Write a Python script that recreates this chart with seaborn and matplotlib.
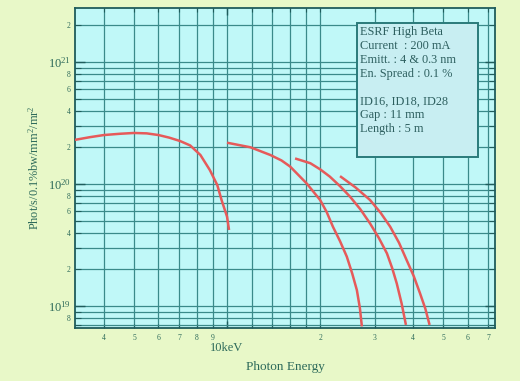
import matplotlib
matplotlib.use("Agg")
import math
import matplotlib.pyplot as plt
import matplotlib.ticker as mticker
from matplotlib.patches import Rectangle
import seaborn as sns
import pandas as pd

# ---- data ----
e1 = [3.22, 3.6, 4.0, 4.5, 5.0, 5.5, 6.0, 6.5, 7.05, 7.6, 8.2, 8.8, 9.3, 9.6, 10.0, 10.15]
f1 = [2.3e20, 2.42e20, 2.52e20, 2.58e20, 2.62e20, 2.6e20, 2.52e20, 2.4e20, 2.25e20, 2.07e20,
      1.73e20, 1.30e20, 9.8e19, 7.4e19, 5.4e19, 4.2e19]
e2 = [10.0, 11.9, 13.8, 15.0, 16.0, 18.1, 20.0, 21.0, 22.0, 23.2, 24.4, 25.4, 26.3, 26.9, 27.3]
f2 = [2.18e20, 2.0e20, 1.73e20, 1.56e20, 1.39e20, 1.01e20, 7.4e19, 5.9e19, 4.47e19, 3.4e19,
      2.54e19, 1.85e19, 1.35e19, 9.6e18, 6.8e18]
e3 = [16.6, 18.6, 20.0, 21.5, 23.2, 25.0, 27.0, 29.0, 31.0, 32.9, 34.2, 35.4, 36.7, 37.9]
f3 = [1.62e20, 1.48e20, 1.32e20, 1.15e20, 9.6e19, 7.87e19, 6.2e19, 4.76e19, 3.6e19, 2.70e19,
      2.05e19, 1.53e19, 1.05e19, 7.0e18]
e4 = [23.2, 26.0, 29.0, 31.4, 33.7, 36.0, 38.1, 40.2, 42.1, 43.8, 45.2]
f4 = [1.16e20, 9.4e19, 7.4e19, 5.8e19, 4.47e19, 3.3e19, 2.38e19, 1.75e19, 1.27e19, 9.5e18, 7.0e18]

x_minor = [4, 5, 6, 7, 8, 9, 12, 14, 16, 18, 20, 30, 40, 50, 60, 70]
x_minor_labels = ["4", "5", "6", "7", "8", "9", "", "", "", "", "2", "3", "4", "5", "6", "7"]
y_major = [1e19, 1e20, 1e21]
y_major_labels = [r"10$^{19}$", r"10$^{20}$", r"10$^{21}$"]

info_text = ("ESRF High Beta\nCurrent  : 200 mA\nEmitt. : 4 & 0.3 nm\nEn. Spread : 0.1 %\n\n"
             "ID16, ID18, ID28\nGap : 11 mm\nLength : 5 m")

frames = []
for name, e, f in [("c1", e1, f1), ("c2", e2, f2), ("c3", e3, f3), ("c4", e4, f4)]:
    frames.append(pd.DataFrame({"energy": e, "flux": f, "curve": name}))
df = pd.concat(frames, ignore_index=True)

# ---- style ----
sns.set_theme(style="ticks")
plt.rcParams["font.family"] = ["Liberation Serif", "DejaVu Serif"]
plt.rcParams["mathtext.fontset"] = "custom"
plt.rcParams["mathtext.rm"] = "Liberation Serif"
plt.rcParams["mathtext.it"] = "Liberation Serif:italic"

fig_bg = "#e8f8c8"
ax_bg = "#c0f8f8"
grid_c = "#3a8a8a"
text_c = "#2d6a5a"
spine_c = "#1f5c5c"
red = "#e65a5a"

fig = plt.figure(figsize=(5.2, 3.81), dpi=100, facecolor=fig_bg)
ax = fig.add_axes([0.144, 0.139, 0.808, 0.840])
ax.set_facecolor(ax_bg)

sns.lineplot(data=df, x="energy", y="flux", units="curve", estimator=None, sort=False,
             color=red, linewidth=1.8, ax=ax, zorder=3)
for ln in ax.get_lines():
    ln.set_solid_joinstyle("round")
    ln.set_solid_capstyle("butt")

ax.set_xscale("log")
ax.set_yscale("log")
ax.set_xlim(3.22, 73.6)
ax.set_ylim(6.6e18, 2.77e21)

# x ticks
ax.xaxis.set_major_locator(mticker.FixedLocator([10]))
ax.xaxis.set_major_formatter(mticker.FixedFormatter(["10keV"]))
ax.xaxis.set_minor_locator(mticker.FixedLocator(x_minor))
ax.xaxis.set_minor_formatter(mticker.FixedFormatter(x_minor_labels))

# y ticks
ax.yaxis.set_major_locator(mticker.FixedLocator(y_major))
ax.yaxis.set_major_formatter(mticker.FixedFormatter(y_major_labels))
ax.yaxis.set_minor_locator(mticker.LogLocator(base=10, subs=[2, 3, 4, 5, 6, 7, 8, 9], numticks=20))
def ymin_fmt(v, pos):
    m = round(v / 10 ** math.floor(math.log10(v) + 1e-9))
    return str(m) if m in (2, 4, 6, 8) else ""
ax.yaxis.set_minor_formatter(mticker.FuncFormatter(ymin_fmt))

ax.tick_params(axis="both", which="both", direction="in", top=True, right=True,
               colors=spine_c, labelcolor=text_c)
ax.tick_params(axis="y", which="major", length=7, width=1.0, labelsize=9, pad=3)
ax.tick_params(axis="y", which="minor", length=4, width=0.8, labelsize=5.5, pad=3)
ax.tick_params(axis="x", which="major", length=5, width=1.0, labelsize=9, pad=10)
ax.tick_params(axis="x", which="minor", length=3, width=0.8, labelsize=5.5, pad=4)

ax.grid(True, which="both", color=grid_c, linewidth=0.9, zorder=1)
for s in ax.spines.values():
    s.set_color(spine_c)
    s.set_linewidth(1.3)

ax.set_xlabel("Photon Energy", fontsize=9.5, color=text_c, labelpad=5)
ax.set_ylabel(r"Phot/s/0.1%bw/mm$^2$/mr$^2$", fontsize=8.8, color=text_c, labelpad=4)

# info box
ax.add_patch(Rectangle((0.671, 0.534), 0.289, 0.419, transform=ax.transAxes,
                       facecolor="#c8eef2", edgecolor="#2a7a7a", linewidth=1.4, zorder=4))
ax.text(0.679, 0.943, info_text, transform=ax.transAxes, ha="left", va="top",
        fontsize=8.8, color="#2d5f5f", linespacing=1.2, zorder=5)

fig.savefig("out.png", dpi=100, facecolor=fig_bg)
